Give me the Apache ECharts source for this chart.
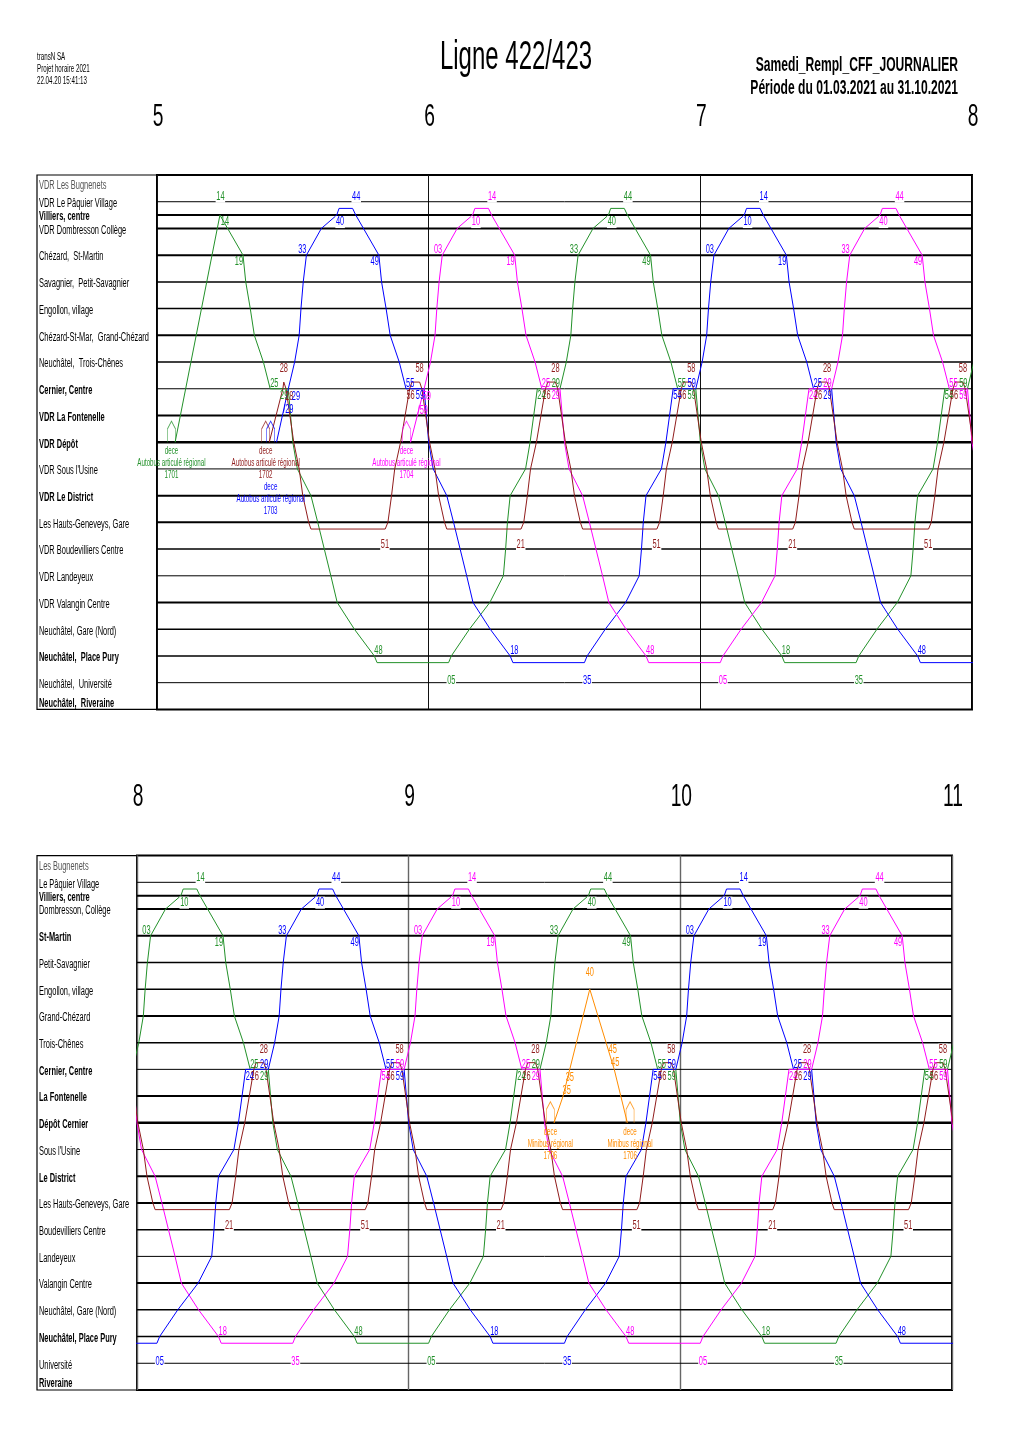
<!DOCTYPE html>
<html lang="fr">
<head>
<meta charset="utf-8">
<title>Ligne 422/423</title>
<script src="https://cdn.jsdelivr.net/npm/echarts@6.0.0/dist/echarts.min.js"></script>
<style>
  html, body { margin: 0; background: #fff; }
  #chart { width: 1020px; height: 1443px; }
</style>
</head>
<body>
<div id="chart"></div>
<script>
// graphique horaire 422/423, samedi
const FONT = '"Liberation Sans", Arial, sans-serif';
const SQUEEZE = 0.62; // the original uses a very condensed face

const panelHours = [[5, 8], [8, 11]];
const hourTicks = [[5, 6, 7, 8], [8, 9, 10, 11]];

// arrêts de haut en bas
const stopNamesTop = [
  'VDR Les Bugnenets', 'VDR Le Pâquier Village', 'Villiers, centre', 'VDR Dombresson Collège',
  'Chézard,  St-Martin', 'Savagnier,  Petit-Savagnier', 'Engollon, village', 'Chézard-St-Mar,  Grand-Chézard',
  'Neuchâtel,  Trois-Chênes', 'Cernier, Centre', 'VDR La Fontenelle', 'VDR Dépôt', "VDR Sous l'Usine",
  'VDR Le District', 'Les Hauts-Geneveys, Gare', 'VDR Boudevilliers Centre', 'VDR Landeyeux',
  'VDR Valangin Centre', 'Neuchâtel, Gare (Nord)', 'Neuchâtel,  Place Pury', 'Neuchâtel,  Université',
  'Neuchâtel,  Riveraine'
];
const stopNamesBottom = [
  'Les Bugnenets', 'Le Pâquier Village', 'Villiers, centre', 'Dombresson, Collège', 'St-Martin',
  'Petit-Savagnier', 'Engollon, village', 'Grand-Chézard', 'Trois-Chênes', 'Cernier, Centre',
  'La Fontenelle', 'Dépôt Cernier', "Sous l'Usine", 'Le District', 'Les Hauts-Geneveys, Gare',
  'Boudevilliers Centre', 'Landeyeux', 'Valangin Centre', 'Neuchâtel, Gare (Nord)',
  'Neuchâtel, Place Pury', 'Université', 'Riveraine'
];
// position of each stop along the line (half rows)
const stopPos = [-1.35, 0, 1, 2, 4, 6, 8, 10, 12, 14, 16, 18, 20, 22, 24, 26, 28, 30, 32, 34, 36, 37.4];

// 422 Le Pâquier -> Place Pury, minutes after the top departure
const downPos = [0.5, 1, 4, 6, 8, 10, 12, 14, 14, 18, 20, 22, 24, 28, 30, 32, 34, 34.5];
const downMin = [-0.8, -0.1, 5, 5.6, 6.6, 7.5, 9.5, 11, 15, 16, 17, 20, 21.5, 24.4, 25.8, 29.6, 34, 34.6];
// 422 Place Pury -> Le Pâquier, minutes after the Pury departure
const upPos = [34.5, 34, 32, 30, 28, 26, 24, 22, 20, 18, 14, 14, 12, 10, 8, 6, 4, 2, 1, 0.5];
const upMin = [-0.6, 0, 4, 8.5, 11.5, 12, 12.4, 13, 16.4, 17.4, 19, 24, 25.4, 26.4, 26.8, 27.3, 28, 31.3, 34.7, 35.2];
// 423 Les Hauts-Geneveys -> Cernier -> Les Hauts-Geneveys, minutes after HG departure
const shuttlePos = [24.5, 24, 22, 20, 18, 14, 13.5, 13.5, 14, 18, 20, 22, 24, 24.5];
const shuttleMin = [-0.6, 0, 0.8, 1.5, 2.8, 4.8, 5.3, 7, 7.5, 9.2, 10.4, 11.2, 12.5, 13];

const green = '#23912a', blue = '#0000ff', magenta = '#ff00ff', brown = '#901c1c', orange = '#ff8c00';

// courses par véhicule
const greenStart = [['5:04', 18], ['5:13.9', 1]];
const greenTop = ['5:14', '6:44', '8:14', '9:44'];
const greenPury = ['6:05', '7:35', '9:05', '10:35'];
const blueStart = [['5:26.4', 18], ['5:29', 14]];
const blueTop = ['5:44', '7:14', '8:44', '10:14'];
const bluePury = ['5:05', '6:35', '8:05', '9:35', '11:05'];
const magentaStart = [['5:56', 18], ['5:59', 14]];
const magentaTop = ['6:14', '7:44', '9:14', '10:44'];
const magentaPury = ['5:35', '7:05', '8:35', '10:05'];
const brownStart = [['5:24.8', 18], ['5:27.8', 14]];
const brownHg = ['5:21', '5:51', '6:21', '6:51', '7:21', '7:51', '8:21', '8:51', '9:21', '9:51', '10:21', '10:51'];
const orangePath = [['9:32.1', 18], ['9:34.1', 16], ['9:40', 8], ['9:45.4', 14], ['9:48.3', 18]];

// sorties / rentrées dépôt: time, vehicle, type, colour, label row
const deceEvents = [
  ['5:03.2', '1701', 'Autobus articulé régional', green, 0],
  ['5:24', '1702', 'Autobus articulé régional', brown, 0],
  ['5:25.1', '1703', 'Autobus articulé régional', blue, 1],
  ['5:55.1', '1704', 'Autobus articulé régional', magenta, 0],
  ['9:31.3', '1706', 'Minibus régional', orange, 0],
  ['9:48.9', '1706', 'Minibus régional', orange, 0]
];

// extra time labels (centre of the text)
const extraLabels = [
  ['5:15', 1.52, '14', green],
  ['5:29.2', 14.62, '28', brown],
  ['5:30.7', 14.62, '29', blue],
  ['5:29', 15.6, '/29', blue],
  ['5:59.6', 14.62, '59', magenta],
  ['5:58.7', 15.67, '/59', magenta],
  ['9:40', 6.77, '40', orange],
  ['9:35.6', 14.6, '35', orange],
  ['9:34.9', 15.6, '35', orange],
  ['9:45.05', 12.5, '45', orange],
  ['9:45.6', 13.5, '45', orange]
];

// styles
const stopLineW = [0, 1, 2, 2, 2, 1.5, 1.5, 2, 1.5, 1, 2, 2.5, 1, 2, 2, 1.5, 1, 2, 1.5, 1.5, 1, 0];
const boldTop = [2, 9, 10, 11, 13, 19, 21];
const boldBottom = [2, 4, 9, 10, 11, 13, 19, 21];

function toMin(s) {
  const [h, m] = s.split(':');
  return +h * 60 + parseFloat(m);
}
function mm(t) {
  return String(Math.round(t) % 60).padStart(2, '0');
}
function run(t, pos, mins) {
  return pos.map((p, i) => [t + mins[i], p]);
}

// text item: va = top (text above point) / bottom / middle, ha = text alignment
function T(t, pos, text, color, va, ha, dx, dy, bg) {
  return { t, pos, text, color, va, ha, dx: dx || 0, dy: dy || 0, bg: !!bg };
}
const up = (t, p, s, c, ha, bg) => T(t, p, s, c, 'bottom', ha, 0, 1, bg);     // written above the line
const below = (t, p, s, c, ha, bg) => T(t, p, s, c, 'top', ha, 0, 1, bg);     // written under the line

const paths = [];
let timeLabels = [];

function addVehicle(color, start, tops, purys) {
  let pts = [];
  let labs = [];
  tops.forEach(s => {
    const t = toMin(s);
    pts = pts.concat(run(t, downPos, downMin));
    labs.push(
      up(t, 0, mm(t), color, 'center', true),
      below(t + 5, 4, mm(t + 5), color, 'right'),
      up(t + 11, 14, mm(t + 11), color, 'left'),
      below(t + 15, 14, mm(t + 15), color, 'right'),
      up(t + 34, 34, mm(t + 34), color, 'left')
    );
  });
  purys.forEach(s => {
    const t = toMin(s);
    pts = pts.concat(run(t, upPos, upMin));
    labs.push(
      T(t, 36, mm(t), color, 'middle', 'center', 0, -2, true),
      below(t + 19, 14, mm(t + 19), color, 'left'),
      up(t + 24, 14, mm(t + 24), color, 'right'),
      up(t + 28, 4, mm(t + 28), color, 'right'),
      T(t + 35, 1, mm(t + 35), color, 'top', 'center', 2, 1, true)
    );
  });
  pts.sort((a, b) => a[0] - b[0]);
  const s = start.map(p => [toMin(p[0]), p[1]]);
  const t0 = s[s.length - 1][0];
  paths.push({ color, data: s.concat(pts.filter(p => p[0] > t0)) });
  timeLabels = timeLabels.concat(labs.filter(l => l.t > t0));
}

addVehicle(green, greenStart, greenTop, greenPury);
addVehicle(blue, blueStart, blueTop, bluePury);
addVehicle(magenta, magentaStart, magentaTop, magentaPury);

(function () {
  let pts = [];
  let labs = [];
  brownHg.forEach(s => {
    const t = toMin(s);
    pts = pts.concat(run(t, shuttlePos, shuttleMin));
    labs.push(
      T(t, 26, mm(t), brown, 'middle', 'center', -3, -4, true),
      below(t + 5, 14, mm(t + 5), brown, 'center'),
      below(t + 7, 12, mm(t + 7), brown, 'center', true)
    );
  });
  const s = brownStart.map(p => [toMin(p[0]), p[1]]);
  const t0 = s[s.length - 1][0];
  paths.push({ color: brown, data: s.concat(pts.filter(p => p[0] > t0)) });
  timeLabels = timeLabels.concat(labs.filter(l => l.t > t0));
})();

paths.push({ color: orange, data: orangePath.map(p => [toMin(p[0]), p[1]]) });

extraLabels.forEach(e => {
  timeLabels.push(T(toMin(e[0]), e[1], e[2], e[3], 'middle', 'center'));
});

// custom series drawing condensed texts at data coordinates
function textSeries(gi, items, size, z, extra) {
  return {
    type: 'custom', coordinateSystem: 'cartesian2d', xAxisIndex: gi, yAxisIndex: gi,
    silent: true, z: z, clip: false,
    data: items.map(d => [d.t, d.pos]),
    encode: { x: 0, y: 1 },
    renderItem: function (params, api) {
      const d = items[params.dataIndex];
      const p = api.coord([d.t, d.pos]);
      const font = (d.bold ? 'bold ' : '') + (d.size || size) + 'px ' + FONT;
      return {
        type: 'text', x: p[0] + d.dx, y: p[1] + d.dy, scaleX: SQUEEZE, silent: true,
        style: Object.assign({
          text: d.text, fill: d.color, font: font,
          align: d.ha, textAlign: d.ha, verticalAlign: d.va, textVerticalAlign: d.va,
          lineHeight: d.lineHeight || undefined,
          backgroundColor: d.bg ? '#fff' : null,
          padding: d.bg ? [0, 1, 0, 1] : 0
        }, extra || {})
      };
    }
  };
}

const chart = echarts.init(document.getElementById('chart'));

const layout = [
  { gridLeft: 157, top: 175, names: stopNamesTop, bold: boldTop, vline: '#111' },
  { gridLeft: 137, top: 855.6, names: stopNamesBottom, bold: boldBottom, vline: '#666' }
];
const gridW = 815, gridH = 534.4;

const grids = [], xAxes = [], yAxes = [], series = [];

layout.forEach((L, pi) => {
  const xmin = panelHours[pi][0] * 60, xmax = panelHours[pi][1] * 60;
  const gi = pi * 2, li = pi * 2 + 1;
  grids.push(
    { left: L.gridLeft, top: L.top, width: gridW, height: gridH, show: true, borderColor: '#000', borderWidth: 2 },
    { left: 37, top: L.top, width: L.gridLeft - 37, height: gridH, show: true, borderColor: '#000', borderWidth: 1.2 }
  );
  xAxes.push(
    {
      gridIndex: gi, type: 'value', min: xmin, max: xmax, interval: 60,
      axisLine: { show: false }, axisTick: { show: false }, axisLabel: { show: false },
      splitLine: { show: true, lineStyle: { color: L.vline, width: pi ? 1.4 : 1 } }
    },
    { gridIndex: li, type: 'value', min: 0, max: 1, show: false }
  );
  yAxes.push(
    { gridIndex: gi, type: 'value', min: -2, max: 38, inverse: true, show: false },
    { gridIndex: li, type: 'value', min: -2, max: 38, inverse: true, show: false }
  );

  // stop lines
  stopPos.forEach((p, i) => {
    if (!stopLineW[i]) return;
    series.push({
      type: 'line', xAxisIndex: gi, yAxisIndex: gi, silent: true, symbol: 'none', z: 1,
      data: [[xmin, p], [xmax, p]],
      lineStyle: { color: '#000', width: stopLineW[i] }
    });
  });

  // vehicles
  paths.forEach(v => {
    series.push({
      type: 'line', xAxisIndex: gi, yAxisIndex: gi, silent: true, symbol: 'none', showSymbol: false,
      clip: true, z: 3, data: v.data, lineStyle: { color: v.color, width: 1 }
    });
  });

  // depot symbols
  const decs = deceEvents.filter(d => toMin(d[0]) >= xmin && toMin(d[0]) <= xmax);
  series.push({
    type: 'scatter', xAxisIndex: gi, yAxisIndex: gi, silent: true, z: 4,
    symbol: 'path://M0,22 L0,8 L5,0 L10,8 L10,22',
    symbolSize: [8, 21], symbolOffset: [0, -10.5],
    data: decs.map(d => ({
      value: [toMin(d[0]), 18],
      itemStyle: { color: 'rgba(0,0,0,0)', borderColor: d[3], borderWidth: 1 }
    }))
  });
  series.push(textSeries(gi, decs.map(d => ({
    t: toMin(d[0]), pos: 18, text: 'dece\n' + d[2] + '\n' + d[1], color: d[3],
    va: 'top', ha: 'center', dx: 0, dy: 3 + d[4] * 36, lineHeight: 12, size: 10
  })), 10, 5));

  // time labels
  series.push(textSeries(gi, timeLabels.filter(l => l.t > xmin && l.t < xmax), 12, 6));

  // hours above the panel
  series.push(textSeries(gi, hourTicks[pi].map(h => ({
    t: h * 60, pos: -2, text: String(h), color: '#000', va: 'middle', ha: 'center', dx: 1, dy: -58
  })), 31, 6));

  // stop names
  series.push(textSeries(li, stopPos.map((p, i) => ({
    t: 0, pos: p, text: L.names[i], color: i === 0 ? '#555' : '#000',
    va: 'middle', ha: 'left', dx: 2, dy: 2, bold: L.bold.includes(i)
  })), 12, 6));
});

function header(x, y, text, size, align, bold, scale) {
  return {
    type: 'text', x: x, y: y, scaleX: scale, silent: true,
    style: {
      text: text, font: (bold ? 'bold ' : '') + size + 'px ' + FONT, fill: '#000',
      align: align, textAlign: align, verticalAlign: 'middle', textVerticalAlign: 'middle'
    }
  };
}

chart.setOption({
  animation: false,
  backgroundColor: '#fff',
  grid: grids,
  xAxis: xAxes,
  yAxis: yAxes,
  series: series,
  graphic: [
    header(37, 57, 'transN SA', 10, 'left', false, SQUEEZE),
    header(37, 69, 'Projet horaire 2021', 10, 'left', false, SQUEEZE),
    header(37, 81, '22.04.20 15:41:13', 10, 'left', false, SQUEEZE),
    header(516, 58, 'Ligne 422/423', 40, 'center', false, 0.6),
    header(958, 66, 'Samedi_Rempl_CFF_JOURNALIER', 19.5, 'right', true, SQUEEZE),
    header(958, 89, 'Période du 01.03.2021 au 31.10.2021', 19.5, 'right', true, SQUEEZE)
  ]
});
</script>
</body>
</html>
